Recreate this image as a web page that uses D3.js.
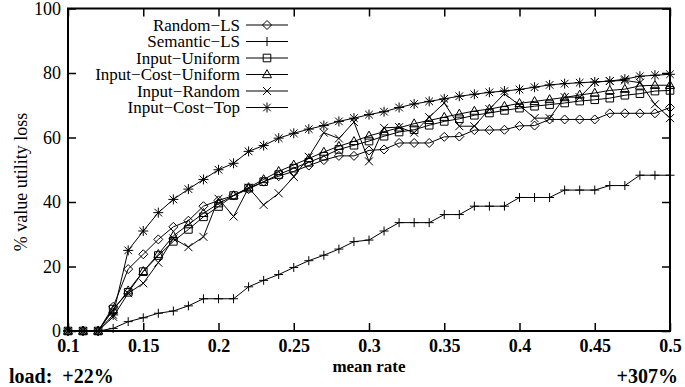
<!DOCTYPE html>
<html>
<head>
<meta charset="utf-8">
<script src="https://cdn.jsdelivr.net/npm/d3@7"></script>
<style>
  body { margin: 0; background: #fff; }
  text { font-family: "Liberation Serif", "Times New Roman", serif; fill: #000; }
</style>
</head>
<body>
<div class="container"></div>
<script>
// mean rate (x)
var rates = [0.10, 0.11, 0.12, 0.13, 0.14, 0.15, 0.16, 0.17, 0.18, 0.19,
             0.20, 0.21, 0.22, 0.23, 0.24, 0.25, 0.26, 0.27, 0.28, 0.29,
             0.30, 0.31, 0.32, 0.33, 0.34, 0.35, 0.36, 0.37, 0.38, 0.39,
             0.40, 0.41, 0.42, 0.43, 0.44, 0.45, 0.46, 0.47, 0.48, 0.49, 0.50];

// % value utility loss, one list per strategy
var randomLS = [0, 0, 0, 7.5, 19.2, 23.8, 28.4, 32.3, 34.2, 38.7,
                40.5, 42, 44, 46.3, 48, 49.5, 51.3, 53, 54.3, 54.3,
                56, 56.3, 58.3, 58.3, 58.3, 60.2, 60.3, 62.3, 62.3, 62.4,
                63.6, 63.7, 65.6, 65.6, 65.6, 65.6, 67.5, 67.5, 67.5, 67.5, 69.3];
var semanticLS = [0, 0, 0, 0.8, 2.9, 4.1, 5.5, 6.2, 7.8, 10,
                  10, 10, 13.7, 15.7, 17.5, 19.7, 21.8, 23.5, 25.4, 27.7,
                  28.2, 31, 33.6, 33.6, 33.6, 36.1, 36.1, 38.7, 38.7, 38.7,
                  41.4, 41.4, 41.4, 43.7, 43.7, 43.7, 45.1, 45.1, 48.3, 48.3, 48.3];
var inputUniform = [0, 0, 0, 6.8, 12, 18.4, 23.4, 27.8, 31.5, 35.4,
                    38.6, 42, 44.3, 46.3, 48.5, 50.5, 52.3, 54.2, 56.3, 57.6,
                    58.9, 60.4, 61.7, 62.4, 63.8, 65, 65.8, 66.9, 67.6, 68.4,
                    69.1, 69.7, 70.2, 70.7, 71.3, 71.7, 72.2, 73.1, 73.6, 74.4, 74.6];
var inputCostUniform = [0, 0, 0, 6.5, 12.5, 18.5, 23.8, 29.5, 33, 36.5,
                        39.5, 42, 44.5, 47, 49.5, 51.5, 53.5, 55.5, 57.3, 58.8,
                        60.5, 61.8, 63, 64.3, 65.3, 66.3, 67.3, 68.2, 68.8, 69.7,
                        70.6, 71.2, 71.8, 72.4, 73.2, 73.8, 74.6, 75, 76, 76.2, 76.2];
var inputRandom = [0, 0, 0, 4.4, 11.7, 14.8, 21.2, 28.7, 26, 29.2,
                   41, 35.5, 44.4, 39.1, 42.7, 47.8, 54, 61.5, 59.7, 64.8,
                   52.6, 63, 63.2, 61.5, 66.3, 70.7, 63.5, 63.5, 68.8, 73.6,
                   70, 66, 66, 72.5, 72.5, 77.2, 77.5, 77.7, 77, 70.3, 66];
var inputCostTop = [0, 0, 0, 5, 25, 31, 36.7, 40.8, 44, 47,
                    50, 52, 55.7, 57.5, 59.8, 61.3, 62.6, 63.7, 65, 66,
                    67.1, 68, 69.3, 70.4, 71.2, 72, 72.8, 73.4, 74, 74.4,
                    74.9, 75.6, 76.3, 76.7, 77, 77.2, 77.5, 78.1, 79, 79.3, 79.6];

var seriesNames = ['Random\u2212LS', 'Semantic\u2212LS', 'Input\u2212Uniform',
                   'Input\u2212Cost\u2212Uniform', 'Input\u2212Random', 'Input\u2212Cost\u2212Top'];
var seriesValues = [randomLS, semanticLS, inputUniform, inputCostUniform, inputRandom, inputCostTop];
var seriesMarks = ['diamond', 'plus', 'square', 'triangle', 'cross', 'star'];

var xTicks = [0.1, 0.15, 0.2, 0.25, 0.3, 0.35, 0.4, 0.45, 0.5];
var yTicks = [0, 20, 40, 60, 80, 100];

var svg = d3.select('.container')
            .append('svg')
              .attr('width', 685)
              .attr('height', 387);

var x = d3.scaleLinear().domain([0.1, 0.5]).range([68, 670]);
var y = d3.scaleLinear().domain([0, 100]).range([331, 8.5]);

// axes, ticks pointing inward like gnuplot
var bottom = svg.append('g')
  .attr('transform', 'translate(0,331)')
  .call(d3.axisBottom(x).tickValues(xTicks).tickSize(-8).tickPadding(8)
        .tickFormat(function(d) { return String(d); }));
bottom.selectAll('text').style('font-size', '18px').style('font-weight', 'bold');

svg.append('g')
  .attr('transform', 'translate(0,8.5)')
  .call(d3.axisTop(x).tickValues(xTicks).tickSize(-8).tickFormat(''));

var left = svg.append('g')
  .attr('transform', 'translate(68,0)')
  .call(d3.axisLeft(y).tickValues(yTicks).tickSize(-8).tickPadding(7));
left.selectAll('text').style('font-size', '18px');

svg.append('g')
  .attr('transform', 'translate(670,0)')
  .call(d3.axisRight(y).tickValues(yTicks).tickSize(-8).tickFormat(''));

svg.selectAll('.domain').remove();
svg.selectAll('.tick line').attr('stroke', '#000').attr('stroke-width', 1.5);
svg.selectAll('.tick text').attr('font-family', null).attr('fill', '#000');

svg.append('rect')
  .attr('x', 68).attr('y', 8.5)
  .attr('width', 670 - 68).attr('height', 331 - 8.5)
  .style('fill', 'none')
  .style('stroke', '#000')
  .style('stroke-width', 2);

// marker shapes
function markPath(type) {
  if (type == 'diamond') return 'M0,-4.5L4.5,0L0,4.5L-4.5,0Z';
  if (type == 'plus') return 'M-4.5,0H4.5M0,-4.5V4.5';
  if (type == 'square') return 'M-3.8,-3.8H3.8V3.8H-3.8Z';
  if (type == 'triangle') return 'M0,-4.8L4.5,3.2L-4.5,3.2Z';
  if (type == 'cross') return 'M-4,-4L4,4M-4,4L4,-4';
  return 'M-5,0H5M0,-5V5M-3.8,-3.8L3.8,3.8M-3.8,3.8L3.8,-3.8';
}

var line = d3.line()
  .x(function(d, i) { return x(rates[i]); })
  .y(function(d) { return y(d); });

seriesValues.forEach(function(vals, s) {
  var g = svg.append('g');
  g.append('path')
    .attr('d', line(vals))
    .style('fill', 'none')
    .style('stroke', '#000')
    .style('stroke-width', 1);
  g.selectAll('path.mk')
    .data(vals)
    .enter()
    .append('path')
      .attr('class', 'mk')
      .attr('transform', function(d, i) { return 'translate(' + x(rates[i]) + ',' + y(d) + ')'; })
      .attr('d', markPath(seriesMarks[s]))
      .style('fill', 'none')
      .style('stroke', '#000')
      .style('stroke-width', 1);
});

// legend
var legend = svg.append('g');
seriesNames.forEach(function(name, s) {
  var ly = 25 + s * 16.5;
  legend.append('text')
    .attr('x', 240).attr('y', ly)
    .attr('dy', '0.33em')
    .attr('text-anchor', 'end')
    .style('font-size', '17px')
    .text(name);
  legend.append('line')
    .attr('x1', 246).attr('x2', 288)
    .attr('y1', ly).attr('y2', ly)
    .style('stroke', '#000');
  legend.append('path')
    .attr('transform', 'translate(267,' + ly + ')')
    .attr('d', markPath(seriesMarks[s]))
    .style('fill', 'none')
    .style('stroke', '#000');
});

// labels
svg.append('text')
  .attr('transform', 'translate(27,182) rotate(-90)')
  .attr('text-anchor', 'middle')
  .style('font-size', '18px')
  .text('% value utility loss');

svg.append('text')
  .attr('x', 369).attr('y', 372)
  .attr('text-anchor', 'middle')
  .style('font-size', '17px')
  .style('font-weight', 'bold')
  .text('mean rate');

svg.append('text')
  .attr('x', 9).attr('y', 383)
  .style('font-size', '20px')
  .style('font-weight', 'bold')
  .style('white-space', 'pre')
  .text('load:  +22%');

svg.append('text')
  .attr('x', 678).attr('y', 383)
  .attr('text-anchor', 'end')
  .style('font-size', '20px')
  .style('font-weight', 'bold')
  .text('+307%');
</script>
</body>
</html>
